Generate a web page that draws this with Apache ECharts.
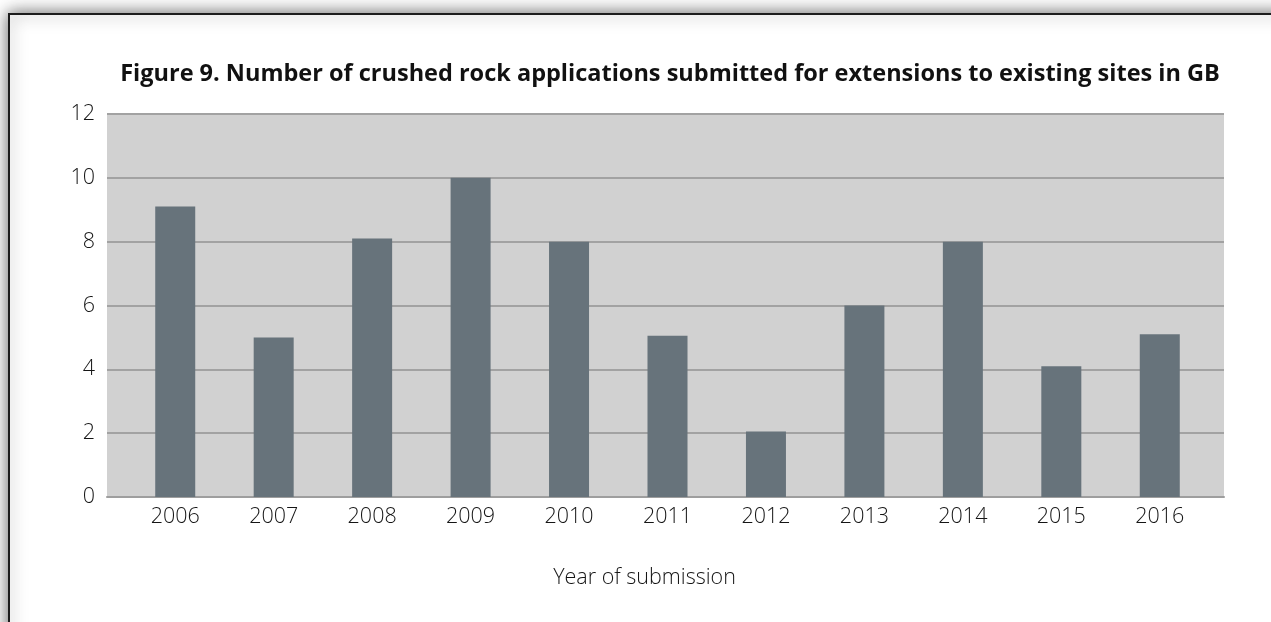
<!DOCTYPE html>
<html>
<head>
<meta charset="utf-8">
<script src="https://cdn.jsdelivr.net/npm/echarts@6/dist/echarts.min.js"></script>
<style>
  html, body { margin: 0; padding: 0; background: #ffffff; }
  #chart { width: 1271px; height: 622px; }
</style>
</head>
<body>
<div id="chart"></div>
<script>
// Crushed rock applications for extensions to existing sites, by year
const titleText = 'Figure 9. Number of crushed rock applications submitted for extensions to existing sites in GB';
const xAxisName = 'Year of submission';
const years = ['2006', '2007', '2008', '2009', '2010', '2011', '2012', '2013', '2014', '2015', '2016'];
const applications = [9.1, 5, 8.1, 10, 8, 5.05, 2.05, 6, 8, 4.1, 5.1];
const yMin = 0;
const yMax = 12;
const yStep = 2;

const labelFont = { fontFamily: 'Open Sans', fontWeight: 300, fontSize: 21.5, color: '#151515' };

const chart = echarts.init(document.getElementById('chart'), null, { renderer: 'canvas' });

chart.setOption({
  backgroundColor: '#ffffff',
  animation: false,
  title: {
    text: titleText,
    left: 665,
    textAlign: 'center',
    top: 57,
    textStyle: { fontFamily: 'Open Sans', fontWeight: 'bold', fontSize: 23.5, color: '#111111' }
  },
  graphic: [
    {
      type: 'rect',
      z: -10,
      silent: true,
      shape: { x: 9, y: 14, width: 1300, height: 700 },
      style: {
        fill: '#ffffff',
        stroke: '#1c1c1c',
        lineWidth: 2,
        shadowBlur: 16,
        shadowColor: 'rgba(0,0,0,0.6)'
      }
    }
  ],
  grid: [
    // plot panel with gridlines
    { left: 107, top: 114, width: 1117, height: 383, show: true, backgroundColor: '#d1d1d1', borderWidth: 0 },
    // bars sit inside a slightly narrower category band
    { left: 126, top: 114, width: 1083, height: 383, show: false }
  ],
  xAxis: [
    {
      type: 'category',
      gridIndex: 0,
      data: years,
      axisLine: { show: true, lineStyle: { color: '#9e9e9e', width: 2 } },
      axisTick: { show: false },
      axisLabel: { show: false },
      splitLine: { show: false }
    },
    {
      type: 'category',
      gridIndex: 1,
      data: years,
      axisLine: { show: false },
      axisTick: { show: false },
      axisLabel: Object.assign({ margin: 9 }, labelFont),
      name: xAxisName,
      nameLocation: 'middle',
      nameGap: 70,
      nameTextStyle: Object.assign({ padding: [0, 46, 0, 0] }, labelFont)
    }
  ],
  yAxis: [
    {
      type: 'value',
      gridIndex: 0,
      min: yMin,
      max: yMax,
      interval: yStep,
      axisLine: { show: false },
      axisTick: { show: false },
      axisLabel: Object.assign({ margin: 12 }, labelFont),
      splitLine: { show: true, lineStyle: { color: '#a2a2a2', width: 2 } }
    },
    {
      type: 'value',
      gridIndex: 1,
      min: yMin,
      max: yMax,
      interval: yStep,
      show: false,
      splitLine: { show: false }
    }
  ],
  series: [
    {
      type: 'bar',
      xAxisIndex: 1,
      yAxisIndex: 1,
      data: applications,
      barWidth: 40,
      z: 5,
      itemStyle: { color: '#67737b' }
    }
  ]
});
</script>
</body>
</html>
